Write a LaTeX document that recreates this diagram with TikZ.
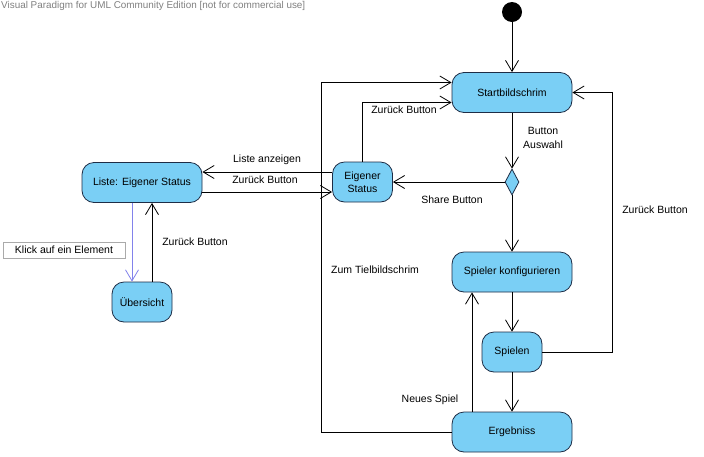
\documentclass[tikz,border=0pt]{standalone}
\usepackage{fontspec}
\setmainfont{Liberation Sans}
\usetikzlibrary{positioning, calc, arrows.meta, shapes.geometric}
\definecolor{actfill}{RGB}{122,207,245}
\definecolor{actdraw}{RGB}{30,45,70}
\definecolor{notelink}{RGB}{130,130,235}
\definecolor{notedraw}{RGB}{170,170,170}

\begin{document}
\begin{tikzpicture}[
    x=1pt, y=-1pt,
    act/.style={
      draw=actdraw,
      fill=actfill,
      rounded corners=12pt,
      line width=0.8pt,
      minimum height=40pt,
      align=center,
      inner sep=2pt,
      font=\fontsize{10.5}{13.5}\selectfont
    },
    flow/.style={
      line width=0.8pt,
      -{Straight Barb[length=11pt,width=13pt,line width=0.8pt]}
    },
    lbl/.style={
      align=center,
      inner sep=1pt,
      font=\fontsize{10.5}{14.5}\selectfont
    },
    note/.style={
      draw=notedraw,
      fill=white,
      minimum width=122pt,
      minimum height=16pt,
      inner sep=1pt,
      font=\fontsize{10.5}{13}\selectfont
    }
  ]
    \useasboundingbox[fill=white] (0,0) rectangle (704,456);

    \node[anchor=north west, inner sep=1pt, text=gray,
      font=\fontsize{9.9}{11}\selectfont] (wm) at (0,0)
      {Visual Paradigm for UML Community Edition [not for commercial use]};

    \node[circle, fill=black, minimum size=20pt, inner sep=0pt] (init) at (512,12) {};
    \node[act, minimum width=120pt] (start) at (512,92.5) {Startbildschrim};
    \node[diamond, draw=actdraw, fill=actfill, line width=0.8pt,
      minimum width=14pt, minimum height=26pt, inner sep=0pt] (choice) at (512,182) {};
    \node[act, minimum width=60pt] (eig) at (362.5,182) {Eigener\\Status};
    \node[act, minimum width=120pt] (liste) at (142,182.5) {Liste: Eigener Status};
    \node[act, minimum width=60pt] (uebersicht) at (142,302) {Übersicht};
    \node[act, minimum width=120pt] (konf) at (512,272) {Spieler konfigurieren};
    \node[act, minimum width=60pt] (spielen) at (512,352) {Spielen};
    \node[act, minimum width=120pt] (erg) at (512,432) {Ergebniss};
    \node[note] (klick) at (64,250) {Klick auf ein Element};

    \draw[flow] (init) -- (start);
    \draw[flow] (start) -- (choice);
    \draw[flow] (choice) -- (eig);
    \draw[flow] (choice) -- (konf);
    \draw[flow] (konf) -- (spielen);
    \draw[flow] (spielen) -- (erg);
    \draw[flow] (spielen.east) -- ++(70,0) |- (start.east);
    \draw[flow] (eig.north) |- ($(start.west)+(0,10)$);
    \draw[flow] (erg.west) -- ++(-130,0) |- ($(start.west)+(0,-10)$);
    \draw[flow] ($(erg.north)+(-40,0)$) -- ($(konf.south)+(-40,0)$);
    \draw[flow] ($(eig.west)+(0,-10)$) -- ($(liste.east)+(0,-10.5)$);
    \draw[flow] ($(liste.east)+(0,9.5)$) -- ($(eig.west)+(0,10)$);
    \draw[flow, draw=notelink] ($(liste.south)+(-10,0)$) -- ($(uebersicht.north)+(-10,0)$);
    \draw[flow] ($(uebersicht.north)+(10,0)$) -- ($(liste.south)+(10,0)$);

    \node[lbl] (l1) at (543,138) {Button\\Auswahl};
    \node[lbl] (l2) at (452,200) {Share Button};
    \node[lbl] (l3) at (404,110) {Zurück Button};
    \node[lbl] (l4) at (655,210) {Zurück Button};
    \node[lbl] (l5) at (375,270) {Zum Tielbildschrim};
    \node[lbl] (l6) at (430,400) {Neues Spiel};
    \node[lbl] (l7) at (267,160) {Liste anzeigen};
    \node[lbl] (l8) at (265,180) {Zurück Button};
    \node[lbl] (l9) at (195,242) {Zurück Button};
  \end{tikzpicture}
\end{document}
